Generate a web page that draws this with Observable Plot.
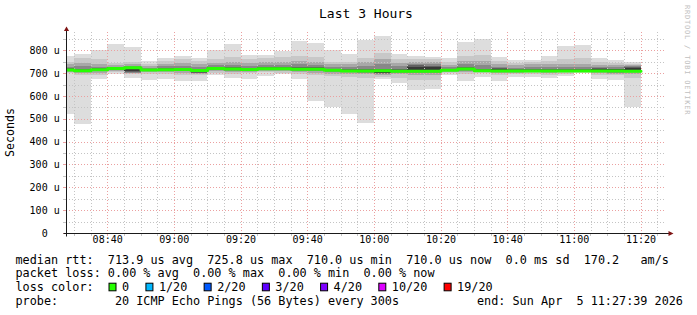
<!DOCTYPE html>
<html>
<head>
<meta charset="utf-8">
<script src="https://cdn.jsdelivr.net/npm/d3@7"></script>
<script src="https://cdn.jsdelivr.net/npm/@observablehq/plot@0.6"></script>
<style>
html, body { margin:0; padding:0; background:#fff; }
#chart svg { display:block; }
#chart text { white-space: pre; }
</style>
</head>
<body>
<div id="chart"></div>
<script>
// ---- data ----
const titleText = "Last 3 Hours";
const yLabelText = "Seconds";
const watermark = "RRDTOOL / TOBI OETIKER";
const rangeStart = "08:27:39", rangeEnd = "11:27:39";
const barEnd = ["08:30","08:35","08:40","08:45","08:50","08:55","09:00","09:05","09:10","09:15",
  "09:20","09:25","09:30","09:35","09:40","09:45","09:50","09:55","10:00","10:05",
  "10:10","10:15","10:20","10:25","10:30","10:35","10:40","10:45","10:50","10:55",
  "11:00","11:05","11:10","11:15","11:20"];
const median = [716,712,717,722,726,716,717,718,714,722,720,718,721,721,719,719,715,711,711,712,710,710,710,715,720,712,711,711,711,711,711,711,711,711,710];
const smoke1Lo = [523,476,676,694,679,670,675,665,665,690,679,676,688,694,675,578,551,522,482,675,657,627,631,690,666,683,666,683,683,679,688,701,675,670,552];
const smoke1Hi = [775,782,801,826,813,752,765,774,765,800,826,778,778,797,839,831,800,782,845,861,782,774,769,765,836,851,769,756,756,774,818,822,765,756,748];
const smoke2Lo = [700,690,690,703,695,695,698,690,692,700,695,700,705,700,695,690,688,685,680,685,680,672,672,702,698,700,690,695,698,693,698,706,692,690,680];
const smoke2Hi = [750,765,760,745,750,742,755,760,755,760,770,760,765,770,775,770,750,750,765,790,760,762,760,750,775,780,755,745,748,752,760,765,748,745,742];
const smoke3Lo = [705,700,700,710,699,703,705,700,696,708,705,705,710,708,705,700,698,697,695,693,695,690,690,706,705,705,700,702,703,700,703,708,700,697,695];
const smoke3Hi = [738,745,740,735,740,732,740,745,740,745,750,745,748,748,755,750,738,738,748,760,745,750,748,735,755,755,740,735,738,738,740,742,735,735,736];
const smoke4Lo = [708,705,708,714,702,708,710,708,700,712,710,710,714,712,710,708,705,703,702,697,702,700,700,708,710,706,704,705,706,704,706,708,705,702,703];
const smoke4Hi = [728,732,728,728,732,724,730,732,728,734,735,732,734,734,738,735,728,726,732,738,730,740,738,725,738,735,728,724,726,725,726,726,726,725,731];
const smoke5Lo = [711,708,712,716,704,712,713,712,702,716,714,713,716,715,713,712,709,706,705,699,705,704,703,711,714,708,707,708,708,707,708,709,708,706,707];
const smoke5Hi = [722,720,721,727,724,719,722,723,718,727,726,724,726,727,726,725,720,717,718,720,718,734,732,719,727,718,722,716,717,716,716,716,722,719,727];
const smoke6Lo = [713,708,714,719,708,713,714,715,704,719,717,715,716,718,716,716,711,707,706,701,706,712,712,712,715,709,712,708,708,708,708,709,712,710,714];
const smoke6Hi = [719,715,719,725,719,718,720,721,712,725,723,721,724,724,722,722,718,714,714,709,713,728,725,718,723,715,720,714,714,714,714,714,720,717,724];
const smokeColors = ["#dddddd","#c8c8c8","#a8a8a8","#888888","#606060","#383838"];
const xMajorTicks = ["08:40","09:00","09:20","09:40","10:00","10:20","10:40","11:00","11:20"];
const yMajorTicks = [0,100,200,300,400,500,600,700,800];
const yTickLabels = ["0  ","100 u","200 u","300 u","400 u","500 u","600 u","700 u","800 u"];
const yMinorTicks = [50,150,250,350,450,550,650,750,850];
const yMax = 880;
const legendRow1 = "median rtt:  713.9 us avg  725.8 us max  710.0 us min  710.0 us now  0.0 ms sd  170.2   am/s";
const legendRow2 = "packet loss: 0.00 % avg  0.00 % max  0.00 % min  0.00 % now";
const legendRow3 = "loss color:";
const legendRow4 = "probe:        20 ICMP Echo Pings (56 Bytes) every 300s";
const legendEnd = "end: Sun Apr  5 11:27:39 2026";
const lossLabels = ["0","1/20","2/20","3/20","4/20","10/20","19/20"];
const lossColors = ["#26ff00","#00b8ff","#0059ff","#5e00ff","#7e00ff","#dd00ff","#ff0000"];
const medianColor = lossColors[0];

// ---- build ----
const hm = s => { const p = s.split(":").map(Number); return new Date(Date.UTC(2026,3,5,p[0],p[1],p[2]||0)); };
const start = hm(rangeStart), end = hm(rangeEnd);
const bars = barEnd.map((t,i) => ({end: hm(t), start: new Date(hm(t) - 300000), med: median[i]}));
const layers = [
  [smoke1Lo, smoke1Hi], [smoke2Lo, smoke2Hi], [smoke3Lo, smoke3Hi],
  [smoke4Lo, smoke4Hi], [smoke5Lo, smoke5Hi], [smoke6Lo, smoke6Hi]
];
const medPts = bars.flatMap(b => [{x:b.start, y:b.med}, {x:b.end, y:b.med}]);
const xMajorDates = xMajorTicks.map(hm);
const xAll = d3.utcMinute.every(5).range(start, end);
const xMinorDates = xAll.filter(d => d.getUTCMinutes() % 20 !== 0);

const W = 697, H = 315, mL = 66, mR = 31, mT = 32, mB = 82;
const minorColor = "#c4c4c4", majorColor = "#eba0a0";

const plot = Plot.plot({
  width: W, height: H,
  marginLeft: mL, marginRight: mR, marginTop: mT, marginBottom: mB,
  x: {type: "utc", domain: [start, end], axis: null},
  y: {domain: [0, yMax], axis: null},
  style: {fontFamily: "'DejaVu Sans Mono', monospace", background: "#fff", color: "#000", overflow: "visible"},
  marks: [
    ...layers.map(([lo, hi], j) => Plot.rect(bars, {
      x1: "start", x2: "end", y1: (d,i) => lo[i], y2: (d,i) => hi[i],
      fill: smokeColors[j], clip: true, shapeRendering: "crispEdges"
    })),
    Plot.ruleY(yMinorTicks, {stroke: minorColor, strokeDasharray: "1,2", shapeRendering: "crispEdges"}),
    Plot.ruleX(xMinorDates, {stroke: minorColor, strokeDasharray: "1,2", shapeRendering: "crispEdges"}),
    Plot.ruleY(yMajorTicks.filter(v => v > 0), {stroke: majorColor, strokeDasharray: "1,2", shapeRendering: "crispEdges"}),
    Plot.ruleX(xMajorDates, {stroke: majorColor, strokeDasharray: "1,2", shapeRendering: "crispEdges"}),
    Plot.line(medPts, {x: "x", y: "y", stroke: medianColor, strokeWidth: 3, clip: true}),
    Plot.text(xMajorDates, {x: d => d, text: (d,i) => xMajorTicks[i], frameAnchor: "bottom", dy: 9.6, fontSize: 10, fill: "#000"}),
    Plot.text(yMajorTicks, {y: d => d, text: (d,i) => yTickLabels[i], frameAnchor: "left", dx: -6.8, textAnchor: "end", fontSize: 10, fill: "#000"})
  ]
});
document.getElementById("chart").appendChild(plot);

// ---- axes, arrows, title and legend drawn into the same svg ----
const svg = d3.select(plot);
const xs = plot.scale("x"), ys = plot.scale("y");
const X0 = xs.apply(start), X1 = xs.apply(end), Y0 = ys.apply(0), YT = ys.apply(yMax);
const g = svg.append("g").attr("font-family", "'DejaVu Sans Mono', monospace")
  .attr("fill", "#000").attr("text-anchor", "start");

// tick stubs
xAll.forEach(d => {
  const x = Math.round(xs.apply(d)) + 0.5;
  g.append("line").attr("x1", x).attr("x2", x).attr("y1", Y0).attr("y2", Y0 + 3)
    .attr("stroke", d.getUTCMinutes() % 20 === 0 ? majorColor : minorColor);
});
yMinorTicks.concat(yMajorTicks).forEach(v => {
  const y = Math.round(ys.apply(v)) + 0.5;
  g.append("line").attr("x1", X0 - 3).attr("x2", X0).attr("y1", y).attr("y2", y)
    .attr("stroke", v % 100 === 0 ? majorColor : minorColor);
});
// axis lines
const ax = Math.round(X0) + 0.5, ay = Math.round(Y0) + 0.5;
g.append("line").attr("x1", ax - 3).attr("x2", X1 + 3).attr("y1", ay).attr("y2", ay).attr("stroke", "#1a1a1a");
g.append("line").attr("x1", ax).attr("x2", ax).attr("y1", ay + 3).attr("y2", YT - 1).attr("stroke", "#1a1a1a");
const arrowColor = "#7f1414";
g.append("path").attr("d", `M${X1 + 2.5},${ay - 2.6}L${X1 + 7.5},${ay}L${X1 + 2.5},${ay + 2.6}Z`).attr("fill", arrowColor);
g.append("path").attr("d", `M${ax - 2.6},${YT - 1}L${ax},${YT - 5.5}L${ax + 2.6},${YT - 1}Z`).attr("fill", arrowColor);

// title
g.append("text").attr("x", (X0 + X1) / 2).attr("y", 18).attr("text-anchor", "middle")
  .attr("font-size", 13).text(titleText);
// vertical unit label
g.append("text").attr("transform", `translate(13.5,${(Y0 + YT) / 2}) rotate(-90)`)
  .attr("text-anchor", "middle").attr("font-size", 11.6).text(yLabelText);
// watermark
g.append("text").attr("transform", `translate(685,5) rotate(90)`).attr("text-anchor", "start")
  .attr("font-size", 7).attr("letter-spacing", 0.8).attr("fill", "#c0c0c0").text(watermark);

// legend
const cw = 7.1, lx = 15.5, fs = 11.8;
const rowY = [263.5, 277, 291.3, 304.5];
const addText = (x, y, s) => g.append("text").attr("x", x).attr("y", y).attr("text-anchor", "start").attr("font-size", fs).text(s);
addText(lx, rowY[0], legendRow1);
addText(lx, rowY[1], legendRow2);
addText(lx, rowY[2], legendRow3);
addText(lx, rowY[3], legendRow4);
addText(lx + 65 * cw, rowY[3], legendEnd);
let pos = lx + 13 * cw;
lossLabels.forEach((lab, i) => {
  g.append("rect").attr("x", pos + 1.2).attr("y", rowY[2] - 8.1).attr("width", 7).attr("height", 7.6)
    .attr("fill", lossColors[i]).attr("stroke", "#000").attr("stroke-width", 1);
  addText(pos + 2 * cw, rowY[2], lab);
  pos = pos + 2 * cw + lab.length * cw + 2.2 * cw;
});
</script>
</body>
</html>
